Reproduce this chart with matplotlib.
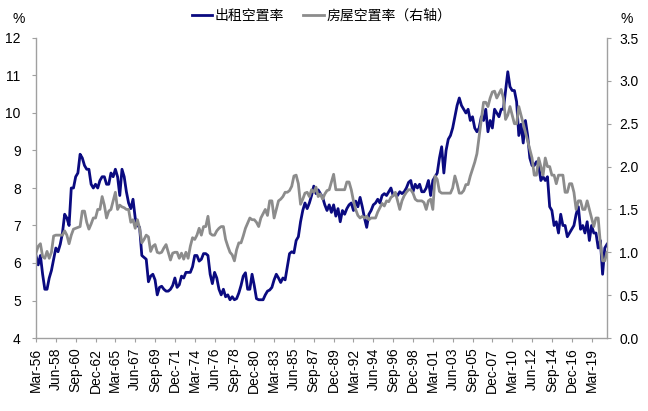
import numpy as np
import matplotlib
matplotlib.use('Agg')
import matplotlib.pyplot as plt

plt.rcParams['font.family'] = ['Liberation Sans', 'Noto Sans CJK SC', 'DejaVu Sans']

# quarterly, Q1 1956 .. Q4 2020 (one row per year)
rental = [
    6.2, 5.95, 6.2, 5.7,   5.3, 5.3, 5.6, 5.8,   6.1, 6.4, 6.3, 6.5,   6.8, 7.3, 7.2, 7.0,
    8.0, 8.0, 8.3, 8.4,   8.9, 8.8, 8.6, 8.5,   8.5, 8.1, 8.0, 8.1,   8.0, 8.2, 8.3, 8.3,
    8.1, 8.1, 8.4, 8.3,   8.5, 8.3, 7.8, 8.5,   8.3, 7.9, 7.6, 7.45,  7.7, 7.2, 7.0, 6.95,
    6.2, 6.15, 6.1, 5.5,  5.65, 5.7, 5.55, 5.15, 5.35, 5.38, 5.3, 5.25, 5.25, 5.3, 5.4, 5.6,
    5.35, 5.42, 5.65, 5.6, 5.75, 5.75, 5.75, 5.9, 6.2, 6.2, 6.05, 6.1,  6.25, 6.25, 6.2, 5.7,
    5.45, 5.75, 5.6, 5.3, 5.15, 5.3, 5.1, 5.15, 5.02, 5.1, 5.02, 5.05, 5.2, 5.4, 5.65, 5.74,
    5.3, 5.3, 5.7, 5.4,   5.05, 5.02, 5.02, 5.02, 5.15, 5.25, 5.28, 5.35, 5.55, 5.7, 5.6, 5.48,
    5.6, 5.55, 5.9, 6.25, 6.3, 6.27, 6.6, 6.7,  7.1, 7.4, 7.6, 7.45,  7.6, 7.8, 8.05, 7.85,
    7.95, 7.85, 7.75, 7.55, 7.4, 7.55, 7.35, 7.55, 7.25, 7.45, 7.1, 7.4, 7.3, 7.45, 7.55, 7.6,
    7.4, 7.65, 7.5, 7.75, 7.5, 7.2, 6.95, 7.3,  7.4, 7.55, 7.6, 7.7,   7.6, 7.8, 7.85, 7.8,
    7.9, 8.0, 7.8, 7.85,  7.8, 7.9, 7.85, 7.9,  8.0, 8.15, 8.2, 7.9,  8.1, 8.0, 8.1, 7.9,
    7.9, 8.0, 8.2, 7.8,   8.2, 8.3, 8.4, 8.8,   9.1, 8.4, 9.0, 9.3,   9.4, 9.6, 9.9, 10.2,
    10.4, 10.2, 10.1, 10.0, 10.1, 9.8, 9.9, 9.6, 9.5, 9.6, 9.9, 9.8,  10.1, 9.5, 9.8, 9.6,
    10.1, 10.0, 9.9, 10.1, 10.1, 10.6, 11.1, 10.7, 10.6, 10.6, 10.3, 9.4, 9.7, 9.2, 9.8, 9.4,
    8.8, 8.6, 8.6, 8.7,   8.6, 8.2, 8.3, 8.2,   8.3, 7.5, 7.4, 7.0,   7.1, 6.8, 7.3, 7.0,
    7.0, 6.7, 6.8, 6.9,   7.0, 7.3, 7.5, 6.9,   7.0, 6.8, 7.1, 6.6,   7.0, 6.8, 6.8, 6.4,
    6.6, 5.7, 6.4, 6.5,
]

homeowner = [
    0.99, 1.07, 1.1, 0.95, 0.93, 1.01, 0.93, 1.0, 1.19, 1.2, 1.2, 1.2,  1.2, 1.25, 1.2, 1.1,
    1.2, 1.27, 1.28, 1.29, 1.3, 1.48, 1.48, 1.35, 1.27, 1.33, 1.4, 1.4, 1.5, 1.5, 1.65, 1.55,
    1.4, 1.48, 1.5, 1.6,  1.7, 1.5, 1.55, 1.53,  1.52, 1.5, 1.5, 1.35, 1.38, 1.28, 1.38, 1.28,
    1.11, 1.15, 1.2, 1.18, 1.01, 1.07, 1.09, 1.0, 0.99, 1.0, 1.05, 1.09, 1.0, 0.91, 0.99, 1.0,
    1.0, 0.93, 0.99, 0.92, 1.0, 0.93, 1.07, 1.17, 1.15, 1.2, 1.28, 1.2,  1.3, 1.3, 1.42, 1.22,
    1.2, 1.2, 1.25, 1.28,  1.3, 1.3, 1.15, 1.07,  1.0, 0.97, 0.9, 1.03, 1.11, 1.11, 1.19, 1.28,
    1.34, 1.4, 1.38, 1.38, 1.35, 1.3, 1.4, 1.45,  1.5, 1.43, 1.6, 1.6,  1.4, 1.5, 1.6, 1.62,
    1.65, 1.7, 1.7, 1.72, 1.77, 1.89, 1.9, 1.8,  1.56, 1.62, 1.69, 1.7, 1.65, 1.73, 1.7, 1.76,
    1.65, 1.68, 1.62, 1.68, 1.72, 1.73, 1.82, 1.91, 1.73, 1.73, 1.73, 1.73, 1.73, 1.82, 1.82, 1.73,
    1.6, 1.5, 1.43, 1.4,  1.42, 1.4, 1.42, 1.38, 1.4, 1.4, 1.4, 1.47,  1.52, 1.57, 1.54, 1.6,
    1.59, 1.64, 1.66, 1.7, 1.6, 1.5, 1.6, 1.66,  1.7, 1.73, 1.73, 1.69, 1.62, 1.6, 1.6, 1.6,
    1.58, 1.5, 1.6, 1.62,  1.5, 1.89, 1.85, 1.71, 1.69, 1.69, 1.69, 1.69, 1.69, 1.75, 1.89, 1.8,
    1.69, 1.69, 1.72, 1.79, 1.79, 1.89, 1.97, 2.05, 2.15, 2.35, 2.55, 2.75, 2.75, 2.7, 2.8, 2.87,
    2.88, 2.8, 2.85, 2.9,  2.8, 2.55, 2.6, 2.7,  2.6, 2.5, 2.5, 2.7,   2.6, 2.5, 2.4, 2.3,
    2.2, 2.1, 1.9, 1.9,   2.1, 2.0, 1.9, 2.1,   2.0, 2.0, 1.9, 1.9,   1.8, 1.9, 1.9, 1.9,
    1.7, 1.7, 1.8, 1.8,   1.7, 1.5, 1.6, 1.6,   1.5, 1.5, 1.6, 1.5,   1.4, 1.3, 1.4, 1.4,
    1.1, 0.9, 0.9, 1.0,
]

tick_labels = ['Mar-56', 'Jun-58', 'Sep-60', 'Dec-62', 'Mar-65', 'Jun-67', 'Sep-69',
               'Dec-71', 'Mar-74', 'Jun-76', 'Sep-78', 'Dec-80', 'Mar-83', 'Jun-85',
               'Sep-87', 'Dec-89', 'Mar-92', 'Jun-94', 'Sep-96', 'Dec-98', 'Mar-01',
               'Jun-03', 'Sep-05', 'Dec-07', 'Mar-10', 'Jun-12', 'Sep-14', 'Dec-16',
               'Mar-19']

assert len(rental) == len(homeowner) == 260
x = np.arange(len(rental))

navy = '#0a0a80'
grey = '#8c8c8c'
axis_c = '#a0a0a0'

fig = plt.figure(figsize=(6.48, 4.11), dpi=100)
ax = fig.add_axes([36 / 648, 1 - 338 / 411, 571 / 648, 300 / 411])
ax2 = ax.twinx()

l1, = ax.plot(x, rental, color=navy, lw=2.0, label='出租空置率')
l2, = ax2.plot(x, homeowner, color=grey, lw=2.0, label='房屋空置率（右轴）')

ax.set_xlim(0, len(rental) - 1)
ax.set_ylim(4, 12)
ax.set_yticks(np.arange(4, 13, 1))
ax2.set_ylim(0, 3.5)
ax2.set_yticks(np.arange(0, 3.51, 0.5))
ax2.set_yticklabels([f'{v:.1f}' for v in np.arange(0, 3.51, 0.5)])

ax.set_xticks(x[::9])
ax.set_xticklabels(tick_labels, rotation=90)

for a in (ax, ax2):
    a.spines['top'].set_visible(False)
    for s in ('left', 'right', 'bottom'):
        a.spines[s].set_color(axis_c)
        a.spines[s].set_linewidth(1.0)
ax.spines['right'].set_visible(False)
ax2.spines['left'].set_visible(False)
ax2.spines['bottom'].set_visible(False)

ax.tick_params(axis='y', direction='out', length=3, pad=8, color=axis_c, labelsize=10)
ax.tick_params(axis='x', direction='out', length=3, pad=4, color=axis_c, labelsize=10)
ax2.tick_params(axis='y', direction='out', length=3, pad=6, color=axis_c, labelsize=10)

fig.text(19 / 648, 1 - 19 / 411, '%', ha='center', va='center', fontsize=10)
fig.text(627 / 648, 1 - 19 / 411, '%', ha='center', va='center', fontsize=10)

fig.legend(handles=[l1, l2], loc='center', bbox_to_anchor=(0.496, 1 - 16 / 411),
           ncol=2, frameon=False, fontsize=10, handlelength=1.45,
           handletextpad=0.2, columnspacing=1.4)

plt.savefig('out.png', dpi=100)
